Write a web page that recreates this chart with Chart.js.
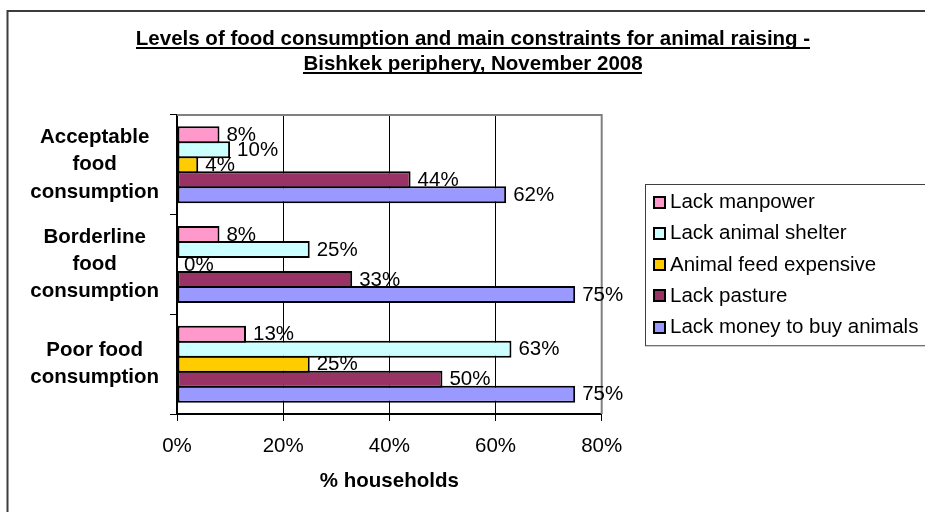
<!DOCTYPE html>
<html>
<head>
<meta charset="utf-8">
<title>Food consumption and animal raising constraints</title>
<script src="https://cdn.jsdelivr.net/npm/chart.js@4.4.1/dist/chart.umd.min.js"></script>
<style>
  html, body { margin: 0; padding: 0; background: #fff; }
  canvas { display: block; }
</style>
</head>
<body>
<canvas id="chart" width="925" height="512"></canvas>
<script>
// categories top to bottom, series in legend order
const categories = [['Acceptable', 'food', 'consumption'], ['Borderline', 'food', 'consumption'], ['Poor food', 'consumption']];
const seriesNames = ['Lack manpower', 'Lack animal shelter', 'Animal feed expensive', 'Lack pasture', 'Lack money to buy animals'];
const seriesColors = ['#FF99CC', '#CCFFFF', '#FFCC00', '#993366', '#9999FF'];
const lackManpower = [8, 8, 13];
const lackShelter = [10, 25, 63];
const feedExpensive = [4, 0, 25];
const lackPasture = [44, 33, 50];
const lackMoney = [62, 75, 75];
const xTicks = [0, 20, 40, 60, 80];
const titleLines = ['Levels of food consumption and main constraints for animal raising -', 'Bishkek periphery, November 2008'];
const xTitle = '% households';

const FONT = "Arial, 'Liberation Sans', Helvetica, sans-serif";
const SIZE = 20.5;

// outer frame of the chart object (runs off the right and bottom edges)
const frame = { left: 7.5, top: 11, width: 931 };

const backgroundAndFrame = {
  id: 'backgroundAndFrame',
  beforeDraw(chart) {
    const ctx = chart.ctx;
    ctx.save();
    ctx.fillStyle = '#fff';
    ctx.fillRect(0, 0, chart.width, chart.height);
    ctx.strokeStyle = '#3c3c3c';
    ctx.lineWidth = 2;
    ctx.strokeRect(frame.left, frame.top, frame.width, chart.height + 50);
    ctx.restore();
  }
};

// two-line underlined bold title
const underlinedTitle = {
  id: 'underlinedTitle',
  afterDraw(chart) {
    const ctx = chart.ctx;
    const cx = frame.left + frame.width / 2;
    ctx.save();
    ctx.font = 'bold ' + SIZE + 'px ' + FONT;
    ctx.fillStyle = '#000';
    ctx.textAlign = 'center';
    ctx.textBaseline = 'alphabetic';
    titleLines.forEach((line, i) => {
      const y = 45 + i * 24.5;
      ctx.fillText(line, cx, y);
      const w = ctx.measureText(line).width;
      ctx.fillRect(Math.round(cx - w / 2), Math.round(y + 2), Math.round(w), 2);
    });
    ctx.restore();
  }
};

// gray top/right border of the plot area plus value labels (bars are painted over them)
const plotFrameAndLabels = {
  id: 'plotFrameAndLabels',
  beforeDatasetsDraw(chart) {
    const { ctx, chartArea: a } = chart;
    ctx.save();
    ctx.strokeStyle = '#808080';
    ctx.lineWidth = 2;
    ctx.beginPath();
    ctx.moveTo(a.left, a.top);
    ctx.lineTo(a.right, a.top);
    ctx.lineTo(a.right, a.bottom);
    ctx.stroke();

    ctx.font = SIZE + 'px ' + FONT;
    ctx.fillStyle = '#000';
    ctx.textAlign = 'left';
    ctx.textBaseline = 'middle';
    chart.data.datasets.forEach((ds, i) => {
      chart.getDatasetMeta(i).data.forEach((bar, j) => {
        ctx.fillText(ds.data[j] + '%', bar.x + 7, bar.y + 0.5);
      });
    });
    ctx.restore();
  }
};

// boxed vertical legend to the right of the plot
const boxedLegend = {
  id: 'boxedLegend',
  afterDraw(chart) {
    const { ctx, chartArea: a } = chart;
    const rowH = 31.25;
    const n = chart.data.datasets.length;
    const boxH = n * rowH + 5;
    const left = Math.round(a.right + 43) + 0.5;
    const top = Math.round((a.top + a.bottom) / 2 - boxH / 2) + 0.5;
    ctx.save();
    ctx.strokeStyle = '#404040';
    ctx.lineWidth = 1;
    ctx.strokeRect(left, top, chart.width, boxH);
    ctx.font = SIZE + 'px ' + FONT;
    ctx.textAlign = 'left';
    ctx.textBaseline = 'middle';
    chart.data.datasets.forEach((ds, i) => {
      const cy = top + 17.5 + i * rowH;
      const sx = Math.round(left + 7);
      const sy = Math.round(cy - 6.5);
      ctx.fillStyle = '#000';
      ctx.fillRect(sx, sy, 13, 13);
      ctx.fillStyle = ds.backgroundColor;
      ctx.fillRect(sx + 2, sy + 2, 9, 9);
      ctx.fillStyle = '#000';
      ctx.fillText(ds.label, left + 24.5, cy + 0.5);
    });
    ctx.restore();
  }
};

const seriesValues = [lackManpower, lackShelter, feedExpensive, lackPasture, lackMoney];

new Chart(document.getElementById('chart'), {
  type: 'bar',
  data: {
    labels: categories,
    datasets: seriesNames.map((name, i) => ({
      label: name,
      data: seriesValues[i],
      backgroundColor: seriesColors[i],
      borderColor: '#000',
      borderWidth: 2,
      borderSkipped: false,
      categoryPercentage: 0.752,
      barPercentage: 17 / 15
    }))
  },
  options: {
    indexAxis: 'y',
    responsive: false,
    animation: false,
    events: [],
    layout: { padding: { left: 30, right: 323.3, top: 115, bottom: 0 } },
    plugins: {
      legend: { display: false },
      title: { display: false },
      tooltip: { enabled: false }
    },
    scales: {
      x: {
        min: 0,
        max: 80,
        afterBuildTicks: scale => { scale.ticks = xTicks.map(v => ({ value: v })); },
        afterFit: scale => { scale.height = 98; },
        grid: { color: '#000', lineWidth: 1, drawTicks: true, tickLength: 7, tickColor: '#000' },
        border: { color: '#000', width: 2 },
        ticks: {
          padding: 13,
          color: '#000',
          font: { family: FONT, size: SIZE },
          callback: v => v + '%'
        },
        title: {
          display: true,
          text: xTitle,
          color: '#000',
          font: { family: FONT, size: SIZE, weight: 'bold' },
          padding: { top: 0, bottom: 18 }
        }
      },
      y: {
        offset: true,
        afterFit: scale => { scale.width = 147; },
        grid: { offset: true, drawOnChartArea: false, drawTicks: true, tickLength: 7, color: '#000', tickColor: '#000', lineWidth: 1 },
        border: { color: '#000', width: 2 },
        ticks: {
          crossAlign: 'center',
          padding: 11,
          color: '#000',
          font: { family: FONT, size: SIZE, weight: 'bold', lineHeight: 1.32 }
        }
      }
    }
  },
  plugins: [backgroundAndFrame, plotFrameAndLabels, underlinedTitle, boxedLegend]
});
</script>
</body>
</html>
